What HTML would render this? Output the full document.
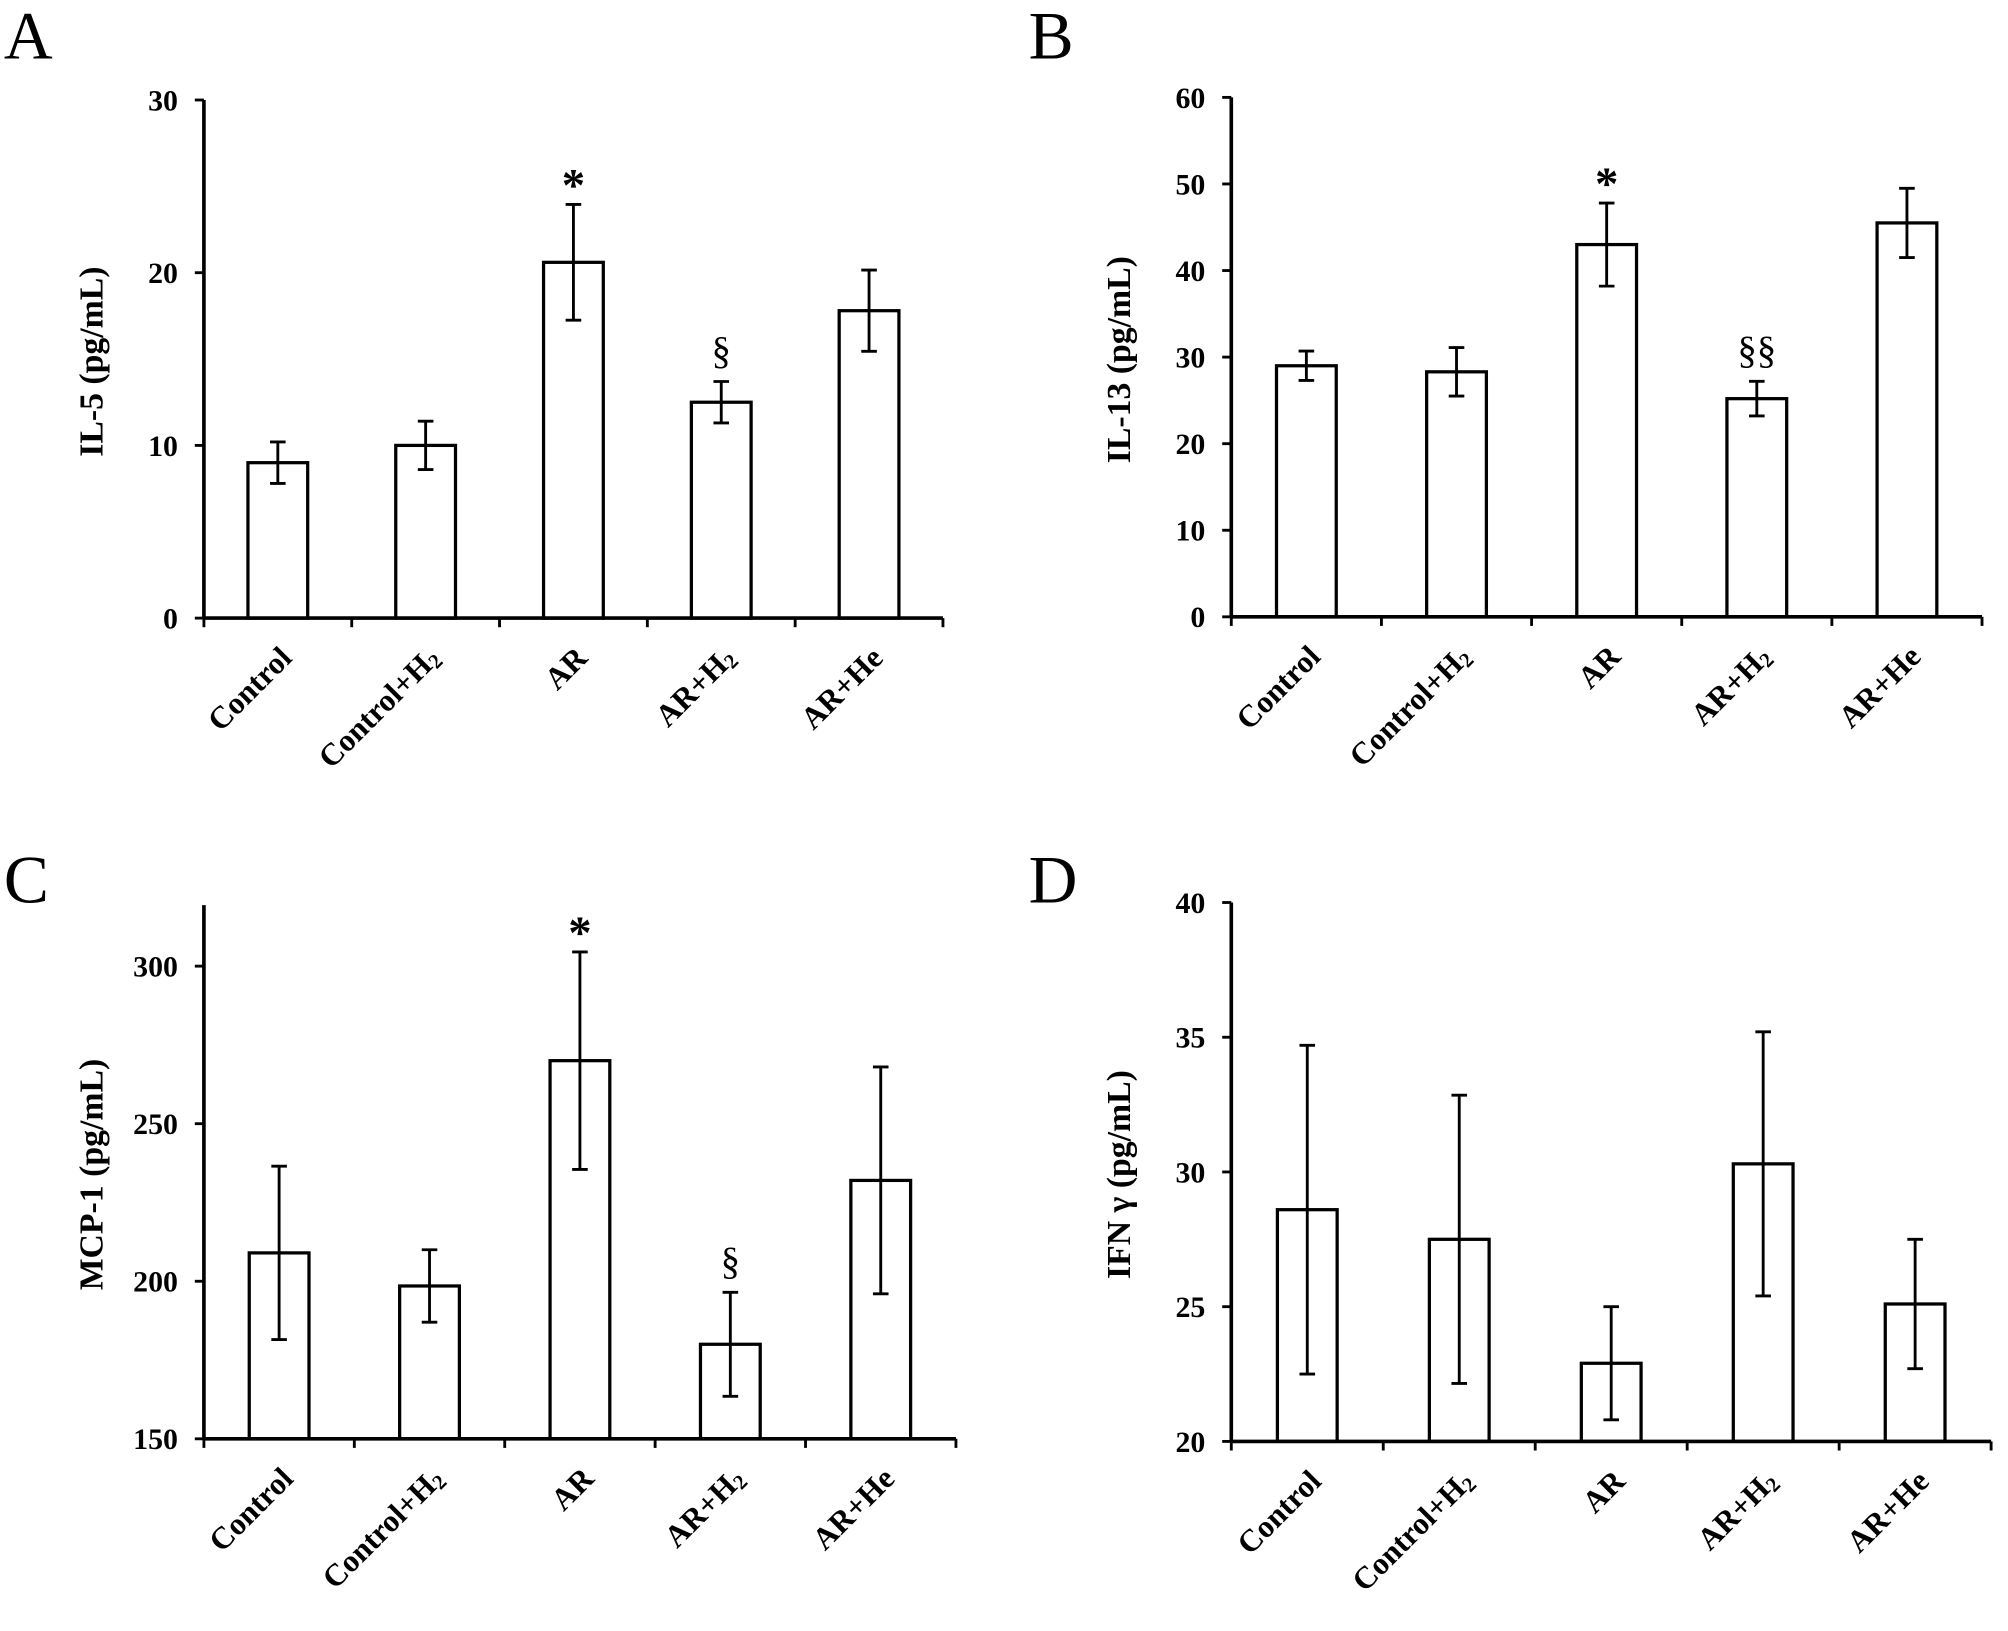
<!DOCTYPE html>
<html><head><meta charset="utf-8">
<style>
html,body{margin:0;padding:0;background:#fff;}
svg{display:block;}
text{font-family:"Liberation Serif",serif;fill:#000;}
</style></head>
<body>
<svg id="fig" width="2008" height="1631" viewBox="0 0 1546 1256" preserveAspectRatio="none" xmlns="http://www.w3.org/2000/svg"></svg>
<script>
const categories = ["Control","Control+H2","AR","AR+H2","AR+He"];
const valuesA = [9.0,10.0,20.6,12.5,17.8];
const errA = [1.2,1.4,3.35,1.2,2.35];
const ticksA = [0,10,20,30];
const annA = ["","","*","§",""];
const valuesB = [29.0,28.3,43.0,25.2,45.5];
const errB = [1.7,2.8,4.8,2.0,4.0];
const ticksB = [0,10,20,30,40,50,60];
const annB = ["","","*","§§",""];
const valuesC = [209,198.5,270,180,232];
const errC = [27.5,11.5,34.5,16.5,36];
const ticksC = [150,200,250,300];
const annC = ["","","*","§",""];
const valuesD = [28.6,27.5,22.9,30.3,25.1];
const errD = [6.1,5.35,2.1,4.9,2.4];
const ticksD = [20,25,30,35,40];
const annD = ["","","","",""];

const NS = "http://www.w3.org/2000/svg";
const svg = document.getElementById("fig");
function mk(tag, attrs, parent){
  const e = document.createElementNS(NS, tag);
  for (const k in attrs) e.setAttribute(k, attrs[k]);
  (parent||svg).appendChild(e);
  return e;
}

function panel(cfg){
  const g = mk("g", {});
  
  
  const yScale = v => cfg.y0 - (v - cfg.vmin) / (cfg.vmax - cfg.vmin) * (cfg.y0 - cfg.yTop);
  const n = categories.length;
  const step = (cfg.xEnd - cfg.x0) / n;
  const xc = i => cfg.x0 + step * (i + 0.5);

  const letter = mk("text", {x: cfg.lx, y: cfg.ly, "font-size": 52}, g);
  letter.textContent = cfg.letter;
  
  

  const yAxis = mk("line", {x1: cfg.x0, y1: cfg.yAxisTop, x2: cfg.x0, y2: cfg.y0, stroke: "#000", "stroke-width": 2.8}, g);
  
  
  cfg.ticks.forEach(t => {
    const y = yScale(t);
    mk("line", {x1: cfg.x0 - 7, y1: y, x2: cfg.x0, y2: y, stroke: "#000", "stroke-width": 2.2}, g);
    const tl = mk("text", {x: cfg.x0 - 20, y: y + 8, "font-size": 23, "font-weight": "bold", "text-anchor": "end"}, g);
    tl.textContent = t;
    
    
  });
  const yt = mk("text", {x: 0, y: 0, "font-size": 26, "font-weight": "bold", "text-anchor": "middle",
    transform: `translate(${cfg.x0 - 78},${(cfg.yAxisTop + cfg.y0) / 2 + 2}) rotate(-90)`}, g);
  yt.textContent = cfg.title;
  
  

  const bw = 46;
  cfg.values.forEach((v, i) => {
    const cx = xc(i), yv = yScale(v);
    const bar = mk("rect", {x: cx - bw / 2, y: yv, width: bw, height: cfg.y0 - yv, fill: "#fff", stroke: "#000", "stroke-width": 2.5}, g);
    
    
    const e = cfg.err[i];
    const yh = yScale(v + e), yl = yScale(v - e);
    const eb = mk("path", {d: `M${cx},${yh}V${yl}M${cx - 6},${yh}H${cx + 6}M${cx - 6},${yl}H${cx + 6}`, stroke: "#000", "stroke-width": 2.2, fill: "none"}, g);
    
    
    if (cfg.ann[i]) {
      const star = cfg.ann[i] === "*";
      const a = mk("text", {x: cx, y: yh - (star ? 3 : 14), "font-size": star ? 36 : 30, "font-weight": star ? "bold" : "normal", "text-anchor": "middle",
        "font-family": star ? "Liberation Sans, sans-serif" : "Liberation Serif, serif"}, g);
      a.textContent = cfg.ann[i];
      
      
    }
  });

  const xAxis = mk("line", {x1: cfg.x0, y1: cfg.y0, x2: cfg.xEnd, y2: cfg.y0, stroke: "#000", "stroke-width": 2.8}, g);
  
  
  for (let i = 0; i <= n; i++) {
    const x = cfg.x0 + step * i;
    mk("line", {x1: x, y1: cfg.y0, x2: x, y2: cfg.y0 + 7, stroke: "#000", "stroke-width": 2.2}, g);
  }
  categories.forEach((c, i) => {
    const cx = xc(i);
    const t = mk("text", {x: 0, y: 0, "font-size": 24, "font-weight": "bold", "text-anchor": "end",
      transform: `translate(${cx + 12},${cfg.y0 + 32}) rotate(-45)`}, g);
    
    
    if (c.endsWith("H2")) {
      t.appendChild(document.createTextNode(c.slice(0, -1)));
      const s = mk("tspan", {"font-size": 16, dy: 3}, t);
      s.textContent = "2";
    } else t.textContent = c;
  });
}

panel({letter:"A", lx:3, ly:45, x0:157, xEnd:726, y0:476, yTop:77, yAxisTop:77, vmin:0, vmax:30, ticks:ticksA, values:valuesA, err:errA, ann:annA, title:"IL-5 (pg/mL)"});
panel({letter:"B", lx:792, ly:45, x0:948, xEnd:1526, y0:475, yTop:75, yAxisTop:75, vmin:0, vmax:60, ticks:ticksB, values:valuesB, err:errB, ann:annB, title:"IL-13 (pg/mL)"});
panel({letter:"C", lx:3, ly:695, x0:157, xEnd:736, y0:1108, yTop:744, yAxisTop:697, vmin:150, vmax:300, ticks:ticksC, values:valuesC, err:errC, ann:annC, title:"MCP-1 (pg/mL)"});
panel({letter:"D", lx:792, ly:695, x0:948, xEnd:1533, y0:1110, yTop:695, yAxisTop:695, vmin:20, vmax:40, ticks:ticksD, values:valuesD, err:errD, ann:annD, title:"IFN γ (pg/mL)"});
</script>
</body></html>
